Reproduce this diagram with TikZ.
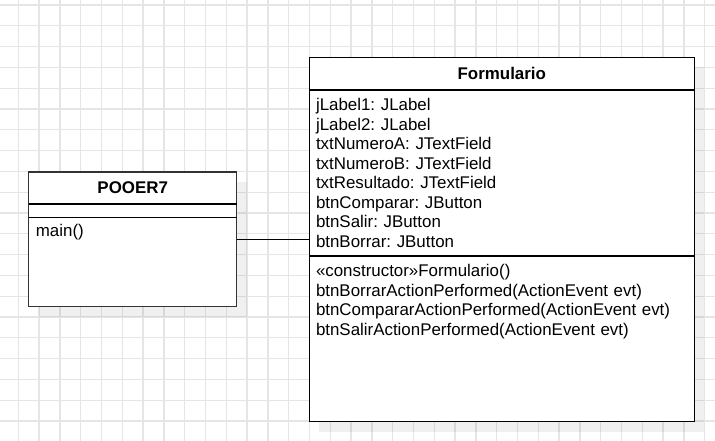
\documentclass[tikz,border=0pt]{standalone}
\usepackage{fontspec}
\setmainfont{Liberation Sans}
\usepackage{tikz}
\usetikzlibrary{shapes, shadows, positioning, calc}
\frenchspacing
\definecolor{gridGray}{RGB}{229,229,229}
\definecolor{frameGray}{RGB}{51,51,51}
\newcommand{\umlFontSize}{\fontsize{16.9}{19.5}\selectfont\frenchspacing}
\newcommand{\memberInset}{6.5pt}
\newcommand{\memberBaseline}{21pt}
\tikzstyle{gridLine}=[draw=gridGray, line width=1.3pt]
\tikzstyle{classBox}=[draw, line width=1.3pt, anchor=north west, inner sep=0pt, outer sep=0pt, fill=white, drop shadow={shadow xshift=10pt, shadow yshift=-10pt, opacity=0.06, fill=black}]
\tikzstyle{classTitle}=[font=\umlFontSize\bfseries, inner sep=0pt]
\tikzstyle{memberText}=[font=\umlFontSize, anchor=base west, inner sep=0pt, align=left, xshift=\memberInset, yshift=-\memberBaseline]
\tikzstyle{divider}=[line width=1.1pt]
\tikzstyle{assoc}=[line width=1.1pt]

\begin{document}
\begin{tikzpicture}[x=1pt, y=-1pt]
  \useasboundingbox (0,0) rectangle (715,441);
  \foreach \i in {0,...,33} \draw[gridLine] (18.3+20.8*\i,0) -- (18.3+20.8*\i,441);
  \foreach \j in {0,...,20} \draw[gridLine] (0,5+20.8*\j) -- (715,5+20.8*\j);

  \node[classBox, draw=frameGray, minimum width=208pt, minimum height=134.7pt] (pooer) at (28.7,172) {};
  \node[classBox, minimum width=385pt, minimum height=364.4pt] (form) at (309.3,57.3) {};

  \draw[divider] ([yshift=-32pt]pooer.north west) -- ([yshift=-32pt]pooer.north east);
  \draw[divider] ([yshift=-45.3pt]pooer.north west) -- ([yshift=-45.3pt]pooer.north east);
  \draw[divider] ([yshift=-32.7pt]form.north west) -- ([yshift=-32.7pt]form.north east);
  \draw[divider] ([yshift=-198.7pt]form.north west) -- ([yshift=-198.7pt]form.north east);

  \node[classTitle] (pooerTitle) at ([yshift=-16pt]pooer.north) {POOER7};
  \node[classTitle] (formTitle) at ([yshift=-16.35pt]form.north) {Formulario};

  \node[memberText, text width=190pt, xshift=0.5pt, yshift=2pt] (pooerOps) at ([yshift=-45.3pt]pooer.north west) {main()};
  \node[memberText, text width=370pt] (formAttrs) at ([yshift=-32.7pt]form.north west) {jLabel1: JLabel\\
    jLabel2: JLabel\\
    txtNumeroA: JTextField\\
    txtNumeroB: JTextField\\
    txtResultado: JTextField\\
    btnComparar: JButton\\
    btnSalir: JButton\\
    btnBorrar: JButton};
  \node[memberText, text width=370pt, yshift=0.3pt] (formOps) at ([yshift=-198.7pt]form.north west) {«constructor»Formulario()\\
    btnBorrarActionPerformed(ActionEvent evt)\\
    btnCompararActionPerformed(ActionEvent evt)\\
    btnSalirActionPerformed(ActionEvent evt)};

  \draw[assoc] (pooer.east) -- (pooer.east -| form.west);
\end{tikzpicture}
\end{document}
